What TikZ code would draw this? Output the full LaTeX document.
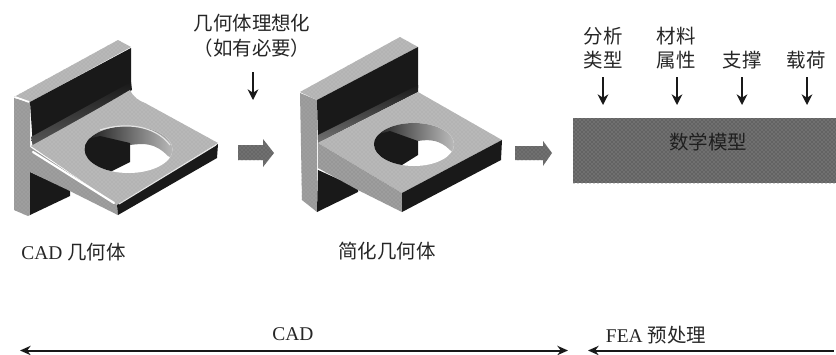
\documentclass[tikz,border=0pt]{standalone}
\usepackage{fontspec}
\setmainfont{Liberation Serif}
\newfontfamily\cjk{Noto Sans CJK SC}
\usetikzlibrary{arrows.meta,patterns,shadings}
\definecolor{topgray}{gray}{0.72}
\definecolor{sidegray}{gray}{0.62}
\definecolor{darkface}{gray}{0.1}
\tikzset{
  lbl/.style={inner sep=0pt,font=\fontsize{14.6pt}{18pt}\selectfont\cjk,align=center,text=black!85},
  lat/.style={inner sep=0pt,font=\fontsize{14.6pt}{18pt}\selectfont,text=black!85},
  downarrow/.style={-{Stealth[length=8pt,width=8pt]},line width=1.1pt,black!90},
  spanarrow/.style={line width=1.5pt,black!90},
  block/.style={fill=black!56,draw=none,postaction={pattern=crosshatch dots,pattern color=black!70}},
  grainy/.style={postaction={pattern=crosshatch dots,pattern color=black!#1}},
}
\begin{document}
\begin{tikzpicture}[x=0.75pt,y=-0.75pt]
\useasboundingbox (0,0) rectangle (836,354);
\fill[white] (0,0) rectangle (836,354);

% ---- first bracket (CAD geometry, with fillets)
\fill[sidegray,grainy=45] (14,98) -- (30,102) -- (30,215) -- (28,216) -- (14,210) -- cycle;
\fill[topgray,grainy=35] (14,97) -- (118,40) -- (131,47) -- (30,102) -- cycle;
\draw[white,line width=1.3pt] (15,97) -- (29,102);
\fill[darkface] (30,102) -- (131,48) -- (131,90) -- (33,147) -- cycle;
\shade[top color=darkface,bottom color=black!65] (31,137) -- (131,82) -- (132,90) -- (33,147) -- cycle;
\fill[darkface] (30,172) -- (70,190) -- (70,196) -- (30,215) -- cycle;
\fill[topgray,grainy=35] (31,146) .. controls (60,130) and (100,108) .. (130,90) .. controls (134,98) and (138,100) .. (145,103) -- (218,143) -- (117,205) -- cycle;
\fill[sidegray,grainy=45] (30,147) -- (117,205) -- (118,215) -- (70,191) -- (30,172) -- cycle;
\fill[darkface] (117,205) -- (218,144) -- (217,158) -- (118,215) -- cycle;
\draw[white,line width=1.6pt,line cap=round] (33,152) -- (114,203);
\draw[white!90!black,line width=0.8pt] (119,204) -- (216,145);
\begin{scope}
  \clip (128.5,149.5) ellipse [x radius=44,y radius=23.5];
  \fill[white] (80,120) rectangle (180,180);
  \shade[left color=darkface,right color=black!25] (85,120) -- (176,120) -- (176,160) -- (168,156) .. controls (155,143) and (145,143) .. (130,145) -- (85,150) -- cycle;
  \fill[darkface] (84,140) -- (100,136) -- (130,143) -- (130,162) -- (110,172) -- (84,172) -- cycle;
\end{scope}
\draw[white!90!black,line width=0.9pt] (100,130) .. controls (125,122) and (155,125) .. (170,145);

% ---- second bracket (simplified geometry, sharp edges)
\fill[sidegray,grainy=45] (300,93) -- (317,100) -- (317,212) -- (302,200) -- cycle;
\fill[topgray,grainy=35] (300,92) -- (400,37) -- (418,47) -- (317,100) -- cycle;
\fill[darkface] (317,100) -- (418,47) -- (418,88) -- (318,140) -- cycle;
\shade[top color=darkface,bottom color=black!55] (318,135) -- (418,85) -- (418,92) -- (318,143) -- cycle;
\fill[darkface] (318,170) -- (358,188) -- (358,192) -- (317,212) -- cycle;
\fill[topgray,grainy=35] (318,143) -- (418,92) -- (502,140) -- (402,193) -- cycle;
\fill[sidegray,grainy=50] (318,143) -- (402,193) -- (402,212) -- (358,190) -- (318,168) -- cycle;
\fill[darkface] (402,193) -- (502,140) -- (501,160) -- (402,212) -- cycle;
\begin{scope}
  \clip (414,144.5) ellipse [x radius=40,y radius=21.5];
  \fill[white] (370,120) rectangle (460,170);
  \shade[left color=darkface,right color=black!25] (372,120) -- (456,120) -- (456,155) -- (450,150) .. controls (440,140) and (430,139) .. (418,141) -- (372,145) -- cycle;
  \fill[darkface] (372,136) -- (390,131) -- (418,141) -- (418,155) -- (402,165) -- (372,168) -- cycle;
\end{scope}

% block arrows
\fill[block] (238,145) -- (263,145) -- (263,139) -- (274,153) -- (263,167) -- (263,160) -- (238,160) -- cycle;
\fill[block] (515,146) -- (543,146) -- (543,141) -- (552,153) -- (543,166) -- (543,160) -- (515,160) -- cycle;

% mathematical model
\node[fill=black!56,draw=none,minimum width=197.25pt,minimum height=48.75pt,inner sep=0pt,anchor=north west,postaction={pattern=crosshatch dots,pattern color=black!78}] (model) at (573,118) {};
\node[lbl,text=black!88] (modeltxt) at (708,142) {数学模型};

% labels
\node[lbl,font=\fontsize{14.6pt}{18.75pt}\selectfont\cjk] (ideal) at (252,35.5) {几何体理想化\\（如有必要）};
\node[lbl] (ana) at (603,48.5) {分析\\类型};
\node[lbl] (mat) at (676,48.5) {材料\\属性};
\node[lbl] (sup) at (742,60) {支撑};
\node[lbl] (load) at (806,60) {载荷};
\node[lat] (cadgeo) at (73.5,252) {CAD {\cjk 几何体}};
\node[lbl] (simp) at (387,251) {简化几何体};
\node[lat] (cad) at (293,334) {CAD};
\node[lat] (fea) at (656,335) {FEA {\cjk 预处理}};

% down arrows
\coordinate (a0) at (253,72); \coordinate (b0) at (253,100);
\coordinate (a1) at (603,77); \coordinate (b1) at (603,105);
\coordinate (a2) at (677,77); \coordinate (b2) at (677,105);
\coordinate (a3) at (742,77); \coordinate (b3) at (742,105);
\coordinate (a4) at (807,77); \coordinate (b4) at (807,105);
\foreach \i in {0,...,4} \draw[downarrow] (a\i) -- (b\i);

% span arrows
\coordinate (c1) at (20,350.5); \coordinate (c2) at (568,350.5);
\coordinate (f1) at (588,350.5); \coordinate (f2) at (834,350.5);
\draw[spanarrow,{Stealth[length=8pt,width=7pt]}-{Stealth[length=8pt,width=7pt]}] (c1) -- (c2);
\draw[spanarrow,{Stealth[length=8pt,width=7pt]}-] (f1) -- (f2);
\end{tikzpicture}
\end{document}
